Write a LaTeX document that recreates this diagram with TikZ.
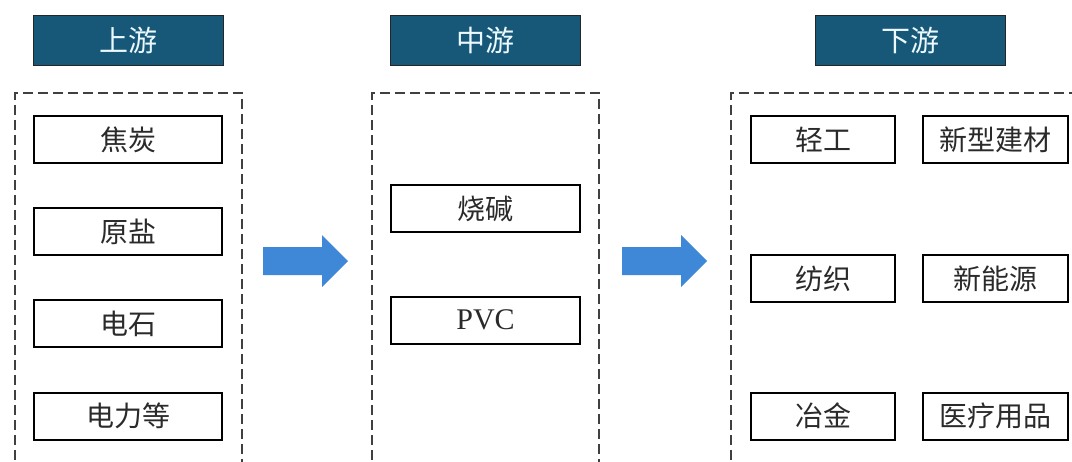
\documentclass[tikz,border=0pt]{standalone}
\usepackage{fontspec}
\setmainfont{Liberation Serif}
\newfontfamily\cjk{Noto Sans CJK SC}
\definecolor{hdr}{HTML}{175879}
\definecolor{arr}{HTML}{3F88D8}
\definecolor{txt}{HTML}{2A2A2A}
\tikzset{
  hdrbox/.style={draw=black!85, line width=1pt, fill=hdr, text=white!92!cyan, minimum width=190pt, minimum height=50pt, font=\cjk\fontsize{29}{29}\selectfont, inner sep=0pt},
  itembox/.style={draw=black, line width=2pt, fill=white, text=txt, minimum height=47pt, font=\cjk\fontsize{28}{28}\selectfont, inner sep=0pt},
  groupbox/.style={draw=black!75, line width=1.3pt, dash pattern=on 10pt off 5pt},
  blockarrow/.style={fill=arr, draw=none}
}
\begin{document}
\begin{tikzpicture}[x=1pt,y=-1pt]
\useasboundingbox (0,0) rectangle (1072,461);
% group frames
\draw[groupbox] (15,475) -- (15,93) -- (242,93) -- (242,475);
\draw[groupbox] (372,475) -- (372,93) -- (599,93) -- (599,475);
\draw[groupbox] (731,475) -- (731,93) -- (1085,93);
% headers
\node[hdrbox] (up)   at (128,40)   {上游};
\node[hdrbox] (mid)  at (485.5,40) {中游};
\node[hdrbox] (down) at (910.5,40) {下游};
% upstream items
\node[itembox, minimum width=188pt] (jt) at (128,139.5) {焦炭};
\node[itembox, minimum width=188pt] (yy) at (128,231.5) {原盐};
\node[itembox, minimum width=188pt] (ds) at (128,323.5) {电石};
\node[itembox, minimum width=188pt] (dl) at (128,416)   {电力等};
% midstream items
\node[itembox, minimum width=189pt] (sj)  at (485.5,208.5) {烧碱};
\node[itembox, minimum width=189pt, font=\fontsize{30}{30}\selectfont] (pvc) at (485.5,320) {PVC};
% downstream items
\node[itembox, minimum width=144pt] (qg) at (823,139.5) {轻工};
\node[itembox, minimum width=145pt] (xx) at (995.5,139.5) {新型建材};
\node[itembox, minimum width=144pt] (fz) at (823,278.5) {纺织};
\node[itembox, minimum width=145pt] (xn) at (995.5,278.5) {新能源};
\node[itembox, minimum width=144pt] (yj) at (823,416) {冶金};
\node[itembox, minimum width=145pt] (yl) at (995.5,416) {医疗用品};
% block arrows
\fill[blockarrow] (263,247) -- (322,247) -- (322,235) -- (348,261) -- (322,287) -- (322,275) -- (263,275) -- cycle;
\fill[blockarrow] (622,247) -- (681,247) -- (681,235) -- (707,261) -- (681,287) -- (681,275) -- (622,275) -- cycle;
\end{tikzpicture}
\end{document}
